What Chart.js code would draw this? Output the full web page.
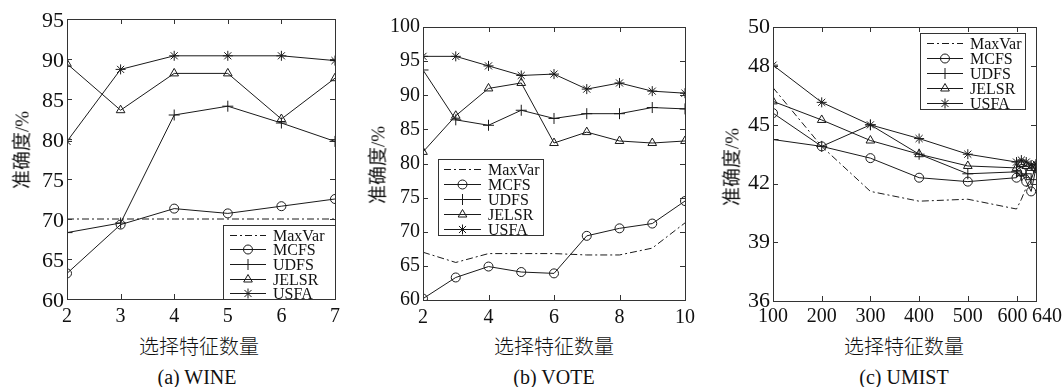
<!DOCTYPE html>
<html>
<head>
<meta charset="utf-8">
<script src="https://cdn.jsdelivr.net/npm/chart.js@4.4.1/dist/chart.umd.min.js"></script>
<style>
  html, body { margin: 0; padding: 0; background: #fff; }
  body { width: 1064px; height: 387px; position: relative; overflow: hidden; }
  canvas { position: absolute; top: 0; }
  .t { position: absolute; color: #111; white-space: nowrap; transform: translate(-50%, -50%);
       font-family: 'Liberation Serif', 'Times New Roman', Times, serif; font-size: 20px; line-height: 1; }
  .yt { position: absolute; color: #111; white-space: nowrap;
        transform: translate(-50%, -50%) rotate(-90deg);
        font-family: 'Liberation Serif', 'Noto Sans CJK SC', serif; font-size: 19px; line-height: 1; }
  .xt { font-family: 'Noto Sans CJK SC', serif; font-size: 20px; font-weight: 300; }
</style>
</head>
<body>
<canvas id="c1" width="355" height="330" style="left:0px"></canvas>
<canvas id="c2" width="355" height="330" style="left:355px"></canvas>
<canvas id="c3" width="354" height="330" style="left:710px"></canvas>

<div class="yt" style="left:22px;top:150px">准确度/%</div>
<div class="yt" style="left:378px;top:165px">准确度/%</div>
<div class="yt" style="left:732px;top:167px">准确度/%</div>

<div class="t xt" style="left:199px;top:346px">选择特征数量</div>
<div class="t xt" style="left:554px;top:346px">选择特征数量</div>
<div class="t xt" style="left:904px;top:346px">选择特征数量</div>

<div class="t" style="left:197px;top:377px">(a) WINE</div>
<div class="t" style="left:554px;top:377px">(b) VOTE</div>
<div class="t" style="left:904px;top:377px">(c) UMIST</div>

<script>
// ---------------- DATA ----------------
const seriesNames = ['MaxVar', 'MCFS', 'UDFS', 'JELSR', 'USFA'];

// (a) WINE
const wineX      = [2, 3, 4, 5, 6, 7];
const wineMaxVar = [70, 70, 70, 70, 70, 70];
const wineMCFS   = [63.2, 69.3, 71.3, 70.7, 71.6, 72.5];
const wineUDFS   = [68.3, 69.5, 83.0, 84.1, 82.0, 79.7];
const wineJELSR  = [89.4, 83.6, 88.2, 88.2, 82.5, 87.6];
const wineUSFA   = [79.7, 88.7, 90.4, 90.4, 90.4, 89.8];
const wineXTicks = [2, 3, 4, 5, 6, 7];
const wineYTicks = [60, 65, 70, 75, 80, 85, 90, 95];

// (b) VOTE
const voteX      = [2, 3, 4, 5, 6, 7, 8, 9, 10];
const voteMaxVar = [67.0, 65.5, 66.8, 66.8, 66.8, 66.6, 66.6, 67.6, 71.3];
const voteMCFS   = [60.2, 63.3, 64.9, 64.1, 63.9, 69.4, 70.5, 71.2, 74.5];
const voteUDFS   = [93.7, 86.4, 85.6, 87.8, 86.6, 87.3, 87.3, 88.2, 88.0];
const voteJELSR  = [81.7, 87.0, 91.0, 91.8, 83.0, 84.6, 83.3, 83.0, 83.3];
const voteUSFA   = [95.7, 95.7, 94.3, 92.9, 93.1, 90.9, 91.8, 90.6, 90.3];
const voteXTicks = [2, 4, 6, 8, 10];
const voteYTicks = [60, 65, 70, 75, 80, 85, 90, 95, 100];

// (c) UMIST
const umistX      = [100, 200, 300, 400, 500, 600, 610, 620, 630, 640];
const umistMaxVar = [46.9, 43.9, 41.6, 41.1, 41.2, 40.7, 41.2, 41.8, 42.3, 42.8];
const umistMCFS   = [45.6, 43.9, 43.3, 42.3, 42.1, 42.3, 42.6, 42.1, 41.6, 42.8];
const umistUDFS   = [44.25, 43.9, 45.0, 43.5, 42.5, 42.6, 42.4, 42.5, 42.2, 42.9];
const umistJELSR  = [46.2, 45.25, 44.2, 43.5, 42.9, 42.8, 43.0, 42.9, 42.8, 42.8];
const umistUSFA   = [48.05, 46.15, 45.0, 44.3, 43.5, 43.1, 43.2, 43.1, 42.95, 43.0];
const umistXTicks = [100, 200, 300, 400, 500, 600, 640];
const umistYTicks = [36, 39, 42, 45, 48, 50];

// ---------------- STYLE ----------------
const INK = '#1a1a1a';
const SERIF = "'Liberation Serif', 'Times New Roman', Times, serif";
const styles = {
  MaxVar: { pointStyle: false, borderDash: [7, 3, 2, 3], pointRadius: 0 },
  MCFS:   { pointStyle: 'circle',   pointRadius: 4.5 },
  UDFS:   { pointStyle: 'cross',    pointRadius: 5.5 },
  JELSR:  { pointStyle: 'triangle', pointRadius: 5 },
  USFA:   { pointStyle: 'star',     pointRadius: 5 }
};

function makeDatasets(xs, arrays) {
  return seriesNames.map((name, i) => {
    const st = styles[name];
    return {
      label: name,
      data: xs.map((x, j) => ({ x: x, y: arrays[i][j] })),
      borderColor: INK,
      borderWidth: 1,
      borderDash: st.borderDash || [],
      pointStyle: st.pointStyle,
      pointRadius: st.pointRadius,
      pointBorderColor: INK,
      pointBackgroundColor: 'rgba(0,0,0,0)',
      pointBorderWidth: 1,
      tension: 0,
      fill: false
    };
  });
}

// Box + inward ticks (MATLAB style axes), custom legend, optional shifted x labels
const boxPlugin = {
  id: 'mbox',
  afterDatasetsDraw(chart) {
    const { ctx, chartArea: a, scales } = chart;
    ctx.save();
    ctx.strokeStyle = '#333';
    ctx.lineWidth = 1;
    ctx.setLineDash([]);
    ctx.strokeRect(Math.round(a.left) + 0.5, Math.round(a.top) + 0.5,
                   Math.round(a.right - a.left), Math.round(a.bottom - a.top));
    const L = 5;
    ctx.beginPath();
    scales.x.ticks.forEach(t => {
      const p = Math.round(scales.x.getPixelForValue(t.value)) + 0.5;
      ctx.moveTo(p, a.bottom); ctx.lineTo(p, a.bottom - L);
      ctx.moveTo(p, a.top); ctx.lineTo(p, a.top + L);
    });
    scales.y.ticks.forEach(t => {
      const p = Math.round(scales.y.getPixelForValue(t.value)) + 0.5;
      ctx.moveTo(a.left, p); ctx.lineTo(a.left + L, p);
      ctx.moveTo(a.right, p); ctx.lineTo(a.right - L, p);
    });
    ctx.stroke();

    const shift = chart.options.plugins.xshift;
    if (shift) {
      ctx.fillStyle = '#111';
      ctx.font = '20px ' + SERIF;
      ctx.textAlign = 'center';
      ctx.textBaseline = 'top';
      scales.x.ticks.forEach(t => {
        const p = scales.x.getPixelForValue(t.value) + (shift[t.value] || 0);
        ctx.fillText(String(t.value), p, a.bottom + 6);
      });
    }
    ctx.restore();
  },
  afterDraw(chart) {
    const lg = chart.options.plugins.mlegend;
    if (!lg) return;
    const ctx = chart.ctx;
    ctx.save();
    ctx.fillStyle = '#fff';
    ctx.fillRect(lg.x, lg.y, lg.w, lg.h);
    ctx.strokeStyle = '#333';
    ctx.lineWidth = 1;
    ctx.strokeRect(lg.x + 0.5, lg.y + 0.5, lg.w, lg.h);
    chart.data.datasets.forEach((ds, i) => {
      const y = lg.rows[i] + 0.5;
      ctx.strokeStyle = INK;
      ctx.setLineDash(ds.borderDash || []);
      ctx.beginPath();
      ctx.moveTo(lg.l0, y); ctx.lineTo(lg.l1, y);
      ctx.stroke();
      ctx.setLineDash([]);
      if (ds.pointStyle) {
        ctx.fillStyle = 'rgba(0,0,0,0)';
        ctx.strokeStyle = INK;
        Chart.helpers.drawPoint(ctx, { pointStyle: ds.pointStyle, radius: ds.pointRadius, rotation: 0, borderWidth: 1 },
          (lg.l0 + lg.l1) / 2, y);
      }
      ctx.fillStyle = '#111';
      ctx.font = '16px ' + SERIF;
      ctx.textBaseline = 'middle';
      ctx.textAlign = 'left';
      ctx.fillText(ds.label, lg.tx, y + 1);
    });
    ctx.restore();
  }
};

function makeChart(id, cfg) {
  const canvasH = 330;
  return new Chart(document.getElementById(id), {
    type: 'line',
    data: { datasets: makeDatasets(cfg.xs, cfg.arrays) },
    plugins: [boxPlugin],
    options: {
      responsive: false,
      animation: false,
      events: [],
      layout: { padding: { left: 0, top: cfg.area.top, right: cfg.width - cfg.area.right, bottom: 0 } },
      plugins: { legend: { display: false }, tooltip: { enabled: false },
                 mlegend: cfg.legend, xshift: cfg.xshift || null },
      scales: {
        x: {
          type: 'linear', min: cfg.xmin, max: cfg.xmax,
          grid: { display: false, drawTicks: false },
          border: { display: false },
          afterBuildTicks: s => { s.ticks = cfg.xticks.map(v => ({ value: v })); },
          afterFit: s => { s.height = canvasH - cfg.area.bottom; },
          ticks: { display: !cfg.xshift, autoSkip: false, maxRotation: 0, padding: 6, color: '#111',
                   font: { family: SERIF, size: 20 } }
        },
        y: {
          type: 'linear', min: cfg.ymin, max: cfg.ymax,
          grid: { display: false, drawTicks: false },
          border: { display: false },
          afterBuildTicks: s => { s.ticks = cfg.yticks.map(v => ({ value: v })); },
          afterFit: s => { s.width = cfg.area.left; },
          ticks: { autoSkip: false, padding: 3, color: '#111', labelOffset: cfg.yLabelOffset || 0,
                   font: { family: SERIF, size: cfg.yFont } }
        }
      }
    }
  });
}

makeChart('c1', {
  width: 355, area: { left: 67, right: 335, top: 19, bottom: 299 },
  xs: wineX, arrays: [wineMaxVar, wineMCFS, wineUDFS, wineJELSR, wineUSFA],
  xmin: 2, xmax: 7, ymin: 60, ymax: 95, xticks: wineXTicks, yticks: wineYTicks,
  yFont: 22, yLabelOffset: 2,
  legend: { x: 223, y: 225, w: 112, h: 74, rows: [235, 249, 264, 279, 293], l0: 230, l1: 266, tx: 273 }
});

makeChart('c2', {
  width: 355, area: { left: 68, right: 330, top: 27, bottom: 300 },
  xs: voteX, arrays: [voteMaxVar, voteMCFS, voteUDFS, voteJELSR, voteUSFA],
  xmin: 2, xmax: 10, ymin: 60, ymax: 100, xticks: voteXTicks, yticks: voteYTicks,
  yFont: 20,
  legend: { x: 83, y: 159, w: 105, h: 76, rows: [169, 184, 199, 214, 229], l0: 89, l1: 126, tx: 133 }
});

makeChart('c3', {
  width: 354, area: { left: 63, right: 326, top: 27, bottom: 301 },
  xs: umistX, arrays: [umistMaxVar, umistMCFS, umistUDFS, umistJELSR, umistUSFA],
  xmin: 100, xmax: 640, ymin: 36, ymax: 50, xticks: umistXTicks, yticks: umistYTicks,
  yFont: 22,
  xshift: { 600: -4, 640: 11 },
  legend: { x: 210, y: 33, w: 105, h: 76, rows: [43, 58, 73, 88, 103], l0: 217, l1: 253, tx: 260 }
});
</script>
</body>
</html>
